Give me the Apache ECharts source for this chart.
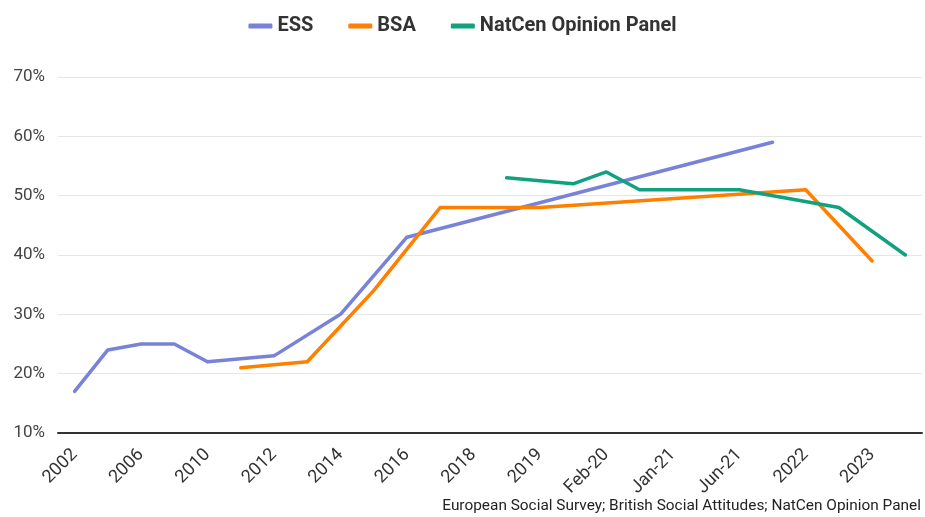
<!DOCTYPE html>
<html>
<head>
<meta charset="utf-8">
<script src="https://cdn.jsdelivr.net/npm/echarts@6/dist/echarts.min.js"></script>
<style>
html,body{margin:0;padding:0;background:#fff;}
#chart{width:925px;height:517px;}
</style>
</head>
<body>
<div id="chart"></div>
<script>
const categories = ['2002','2004','2006','2008','2010','2011','2012','2013','2014','2015','2016','2017','2018','Jul-18','2019','Nov-19','Feb-20','Jul-20','Jan-21','Mar-21','Jun-21','2020-22','2022','Mar-23','2023','Oct-23'];
const shownLabels = ['2002','2006','2010','2012','2014','2016','2018','2019','Feb-20','Jan-21','Jun-21','2022','2023'];
const ess = [17,24,25,25,22,null,23,null,30,null,43,null,null,null,null,null,null,null,null,null,null,59,null,null,null,null];
const bsa = [null,null,null,null,null,21,null,22,28,34,41,48,null,null,48,null,null,null,null,null,null,null,51,null,39,null];
const natcen = [null,null,null,null,null,null,null,null,null,null,null,null,null,53,null,52,54,51,null,null,51,null,null,48,null,40];
const yTicks = [10,20,30,40,50,60,70];
const sourceText = 'European Social Survey; British Social Attitudes; NatCen Opinion Panel';

const font = 'Roboto, "Liberation Sans", sans-serif';
const chart = echarts.init(document.getElementById('chart'));
function mk(name, data, color){
  return {name, type:'line', data, connectNulls:true, showSymbol:false, symbol:'none',
    lineStyle:{width:3.5, color, cap:'round', join:'round'}, itemStyle:{color}};
}
chart.setOption({
  animation:false,
  textStyle:{fontFamily:font},
  legend:{top:11, left:'center', itemWidth:24, itemHeight:5, itemGap:35, icon:'roundRect',
    textStyle:{fontSize:20, fontWeight:'bold', color:'#333', fontFamily:font},
    data:['ESS','BSA','NatCen Opinion Panel']},
  graphic:[{type:'text', right:4, bottom:3, style:{text:sourceText, font:'15.4px '+font, fill:'#222'}}],
  grid:{left:58, right:3, top:77, bottom:84},
  xAxis:{type:'category', data:categories, boundaryGap:true,
    axisLine:{lineStyle:{color:'#333', width:2}}, axisTick:{show:false},
    axisLabel:{rotate:45, fontSize:18, color:'#333', margin:19, interval:0,
      formatter:(v)=> shownLabels.includes(v) ? v : ''}},
  yAxis:{type:'value', min:yTicks[0], max:yTicks[yTicks.length-1], interval:10,
    axisLine:{show:false}, axisTick:{show:false},
    splitLine:{lineStyle:{color:'#e6e6e6', width:1}},
    axisLabel:{fontSize:17, color:'#444', margin:13, formatter:'{value}%'}},
  series:[mk('ESS', ess, '#7782d8'), mk('BSA', bsa, '#ff7f00'), mk('NatCen Opinion Panel', natcen, '#10a27e')]
});
</script>
</body>
</html>
